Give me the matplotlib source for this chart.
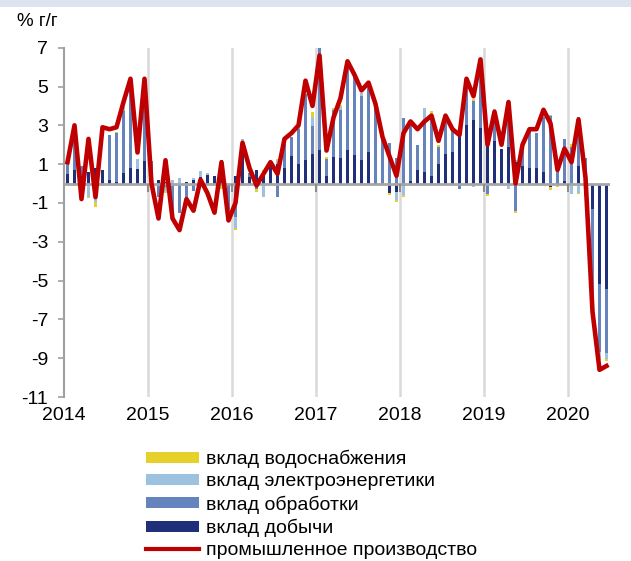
import numpy as np
import matplotlib
matplotlib.use("Agg")
import matplotlib.pyplot as plt
from matplotlib.patches import Rectangle, Patch
from matplotlib.lines import Line2D

plt.rcParams['font.family'] = ['Liberation Sans', 'DejaVu Sans']
plt.rcParams['axes.unicode_minus'] = False

# monthly, Jan 2014 .. Jun 2020
years = ['2014', '2015', '2016', '2017', '2018', '2019', '2020']

prod = [1.1, 3.0, -0.8, 2.3, -0.7, 2.9, 2.8, 2.9, 4.2, 5.4, 1.6, 5.4,
        0.0, -1.8, 1.2, -1.8, -2.4, -0.8, -1.4, 0.2, -0.5, -1.5, 1.1, -1.9,
        -1.0, 2.1, 0.8, -0.1, 0.5, 1.1, 0.5, 2.3, 2.6, 3.0, 5.3, 4.0,
        6.6, 1.7, 3.4, 4.4, 6.3, 5.6, 4.8, 5.2, 4.1, 2.4, 1.4, 0.4,
        2.6, 3.2, 2.8, 3.2, 3.5, 2.2, 3.5, 2.8, 2.5, 5.4, 4.5, 6.4,
        2.0, 3.7, 2.0, 4.2, 0.0, 2.0, 2.8, 2.8, 3.8, 3.1, 0.7, 1.8,
        1.1, 3.3, 0.3, -6.6, -9.6, -9.4]

mining = [0.5, 0.7, 0.4, 0.6, 0.8, 0.7, 0.2, 0.1, 0.55, 0.8, 0.75, 1.15,
          0.0, 0.2, 0.1, 0.0, 0.0, 0.1, 0.2, 0.35, 0.45, 0.4, 0.3, -0.15,
          0.4, 1.55, 0.35, 0.7, 0.6, 0.9, 1.0, 0.8, 1.4, 1.0, 1.2, 1.5,
          1.75, 0.4, 1.35, 1.3, 1.75, 1.45, 1.2, 1.6, 0.05, 0.0, -0.5, -0.45,
          -0.15, 0.15, 0.7, 0.6, 0.4, 1.0, 1.5, 1.6, 2.45, 3.0, 3.3, 2.85,
          2.0, 2.2, 1.8, 1.9, 1.1, 0.9, 0.8, 0.8, 0.6, -0.2, 0.05, 0.15,
          -0.1, 0.9, -0.6, -1.3, -5.2, -5.45]

manuf = [0.8, 2.3, 0.5, 0.0, -0.8, 0.0, 2.3, 2.5, 3.2, 4.4, 0.0, 4.2,
         1.15, -0.7, -0.2, -1.8, -1.5, -0.8, -0.4, 0.0, -0.1, -0.1, 0.9, -1.2,
         -1.7, 0.5, 0.2, -0.3, 0.0, -0.1, -0.7, 1.6, 1.0, 1.8, 3.4, 1.45,
         5.3, 0.85, 2.45, 2.5, 4.3, 4.3, 3.3, 3.6, 4.0, 2.6, 2.1, 1.3,
         3.4, 3.0, 1.3, 2.6, 3.2, 0.9, 1.85, 1.15, -0.3, 2.3, 0.95, 3.5,
         -0.55, 1.55, 0.0, 2.2, -1.4, 1.0, 2.0, 1.8, 2.85, 3.5, 0.6, 2.15,
         1.9, 2.55, 1.3, -5.0, -3.5, -3.3]

power = [0.0, 0.0, 0.0, -0.7, -0.15, 0.0, 0.0, 0.0, 0.1, 0.0, 0.5, 0.0,
         0.0, 0.0, -0.2, 0.2, 0.3, 0.0, 0.1, 0.3, 0.1, 0.0, 0.0, 0.0,
         -0.6, 0.25, 0.0, 0.0, -0.7, 0.0, 0.15, 0.0, 0.0, 0.3, 0.0, 0.5,
         0.0, 0.0, 0.0, 0.15, 0.0, 0.0, 0.15, 0.0, 0.0, 0.0, 0.0, -0.4,
         -0.45, 0.0, 0.0, 0.7, 0.0, -0.1, 0.0, 0.0, 0.0, 0.0, -0.2, 0.0,
         0.0, 0.1, -0.15, -0.3, 0.1, 0.0, 0.0, 0.0, 0.0, 0.05, 0.0, 0.0,
         -0.45, -0.5, 0.0, -0.2, -0.3, -0.3]

water = [-0.08, -0.15, -0.05, -0.05, -0.25, -0.15, -0.1, 0.05, 0.1, -0.1, -0.1, 0.1,
         0.0, 0.0, -0.1, 0.0, 0.0, -0.1, 0.0, -0.1, 0.0, 0.0, -0.3, 0.0,
         -0.1, -0.1, -0.1, -0.15, 0.1, 0.0, 0.1, 0.0, 0.0, 0.1, 0.0, 0.22,
         0.0, 0.1, 0.1, 0.1, -0.1, -0.1, -0.1, -0.1, 0.0, 0.1, -0.1, -0.1,
         -0.1, -0.05, -0.1, -0.05, 0.12, 0.1, 0.0, 0.0, 0.0, 0.2, 0.12, 0.0,
         -0.1, -0.05, 0.0, 0.0, -0.1, -0.1, -0.1, -0.05, -0.1, -0.15, -0.2, -0.05,
         0.13, -0.05, -0.05, -0.05, -0.1, -0.1]

labels = ['вклад водоснабжения', 'вклад электроэнергетики',
          'вклад обработки', 'вклад добычи', 'промышленное производство']
colors = {'water': '#e5d02c', 'power': '#9cc2df', 'manuf': '#6584be', 'mining': '#1f2f7a'}

fig = plt.figure(figsize=(6.31, 5.61), dpi=100)
fig.patches.append(Rectangle((0, 1 - 7 / 561), 1, 7 / 561, transform=fig.transFigure,
                             facecolor='#dde4f0', edgecolor='none'))
ax = fig.add_axes([64 / 631, 1 - 397 / 561, 546 / 631, 349.3 / 561])

x = np.arange(len(prod))
pos = np.zeros(len(x))
neg = np.zeros(len(x))
for vals, key in [(mining, 'mining'), (manuf, 'manuf'), (power, 'power'), (water, 'water')]:
    v = np.array(vals)
    bottom = np.where(v >= 0, pos, neg)
    ax.bar(x, v, bottom=bottom, width=0.45, color=colors[key], linewidth=0, zorder=3)
    pos = pos + np.clip(v, 0, None)
    neg = neg + np.clip(v, None, 0)

ax.plot(x, prod, color='#c00000', lw=3.3, zorder=5, solid_joinstyle='round')

bounds = np.arange(-0.5, len(x), 12)
for b in bounds[1:]:
    ax.axvline(b, color='#d9d9d9', lw=1.8, zorder=1)
ax.axhline(0, color='#a6a6a6', lw=2, zorder=4)
ax.plot(bounds[1:], np.zeros(len(bounds) - 1), ls='none', marker=3, ms=6, mew=1.5,
        color='#8c8c8c', zorder=4)

ax.set_xlim(-0.5, len(x) - 0.5)
ax.set_ylim(-11, 7)
ax.set_yticks(np.arange(-11, 8, 2))
ax.set_xticks(bounds)
ax.set_xticklabels(years)
ax.tick_params(axis='x', length=0, pad=7, labelsize=14)
ax.tick_params(axis='y', direction='out', length=4.5, width=1.2, color='#a0a0a0',
               pad=7, labelsize=14)
for s in ['top', 'right', 'bottom']:
    ax.spines[s].set_visible(False)
ax.spines['left'].set_color('#a0a0a0')
ax.spines['left'].set_linewidth(1.5)

fig.text(17 / 631, 1 - 22 / 561, '% г/г', fontsize=13.5, va='center', ha='left')

handles = [Patch(facecolor=colors['water']), Patch(facecolor=colors['power']),
           Patch(facecolor=colors['manuf']), Patch(facecolor=colors['mining']),
           Line2D([], [], color='#c00000', lw=3)]
fig.legend(handles, labels, loc='upper left', bbox_to_anchor=(146 / 631, 1 - 450 / 561),
           frameon=False, fontsize=14, handlelength=2.7, handleheight=0.5,
           handletextpad=0.4, labelspacing=0.26, borderpad=0, borderaxespad=0)

fig.savefig('out.png', dpi=100)
